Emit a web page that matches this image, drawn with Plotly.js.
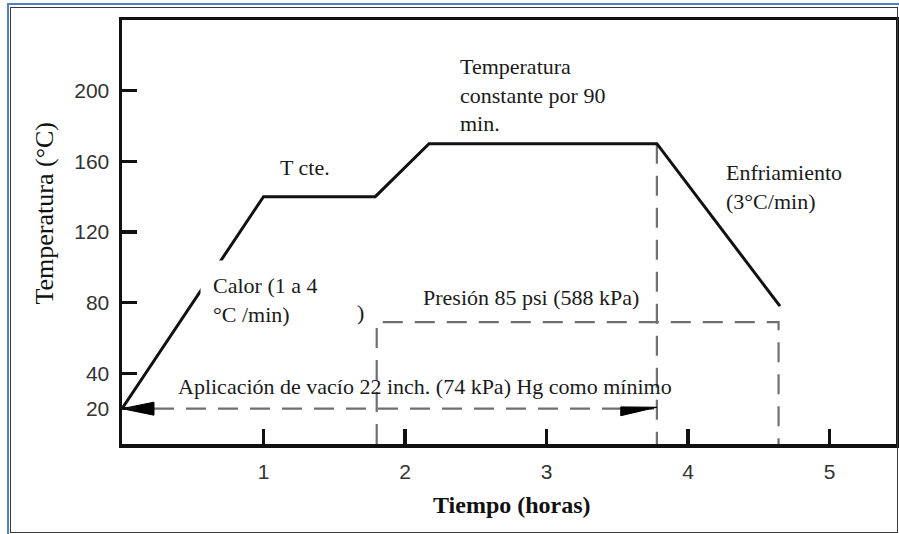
<!DOCTYPE html>
<html>
<head>
<meta charset="utf-8">
<script src="https://cdn.plot.ly/plotly-3.0.1.min.js"></script>
<style>
  html, body { margin: 0; padding: 0; background: #fff; }
  #wrap { position: relative; width: 899px; height: 534px; }
  #chart { width: 899px; height: 534px; }
  #frameBlue { position: absolute; left: 7px; top: 3px; width: 892px; height: 531px;
    border-left: 2px solid #4f81bd; border-top: 2px solid #4f81bd; box-sizing: border-box; pointer-events: none; }
  #frameDark { position: absolute; left: 10px; top: 7px; width: 888px; height: 526px;
    border: 1.5px solid #3a3a3a; box-sizing: border-box; pointer-events: none; }
</style>
</head>
<body>
<div id="wrap">
  <div id="chart"></div>
  <div id="frameBlue"></div>
  <div id="frameDark"></div>
</div>
<script>
// ---- Data ----
var timeH  = [0, 1.0, 1.79, 2.17, 3.78, 4.65];      // horas
var tempC  = [20, 140, 140, 170, 170, 78];           // °C

var pressTime  = [1.8, 1.8, 4.64, 4.64];
var pressLevel = [0, 69, 69, 0];

var vacTime  = [0, 3.78];
var vacLevel = [20, 20];

var holdEndTime  = [3.78, 3.78];
var holdEndLevel = [170, 0];

var xTickVals = [1, 2, 3, 4, 5];
var yTickVals = [20, 40, 80, 120, 160, 200];

// ---- Styles ----
var serif = "'Liberation Serif', 'Times New Roman', serif";
var sans  = "'Liberation Sans', Arial, sans-serif";
var dashGrey = "#6f6f6f";
var dashPat = "20px,12px";

// arrowheads built from the vacuum line endpoints
var hL = 0.226, hH = 3.7;
var xa = vacTime[0], ya = vacLevel[0];
var leftHead = {
  x: [xa, xa + hL, xa + hL, xa],
  y: [ya, ya + hH, ya - hH, ya],
  mode: "lines", fill: "toself", fillcolor: "#000",
  line: {color: "#000", width: 1}, hoverinfo: "skip", showlegend: false
};
var xb = vacTime[1], yb = vacLevel[1];
var rightHead = {
  x: [xb - 0.255, xb, xb - 0.255, xb - 0.255],
  y: [yb + 1, yb + 0.8, yb - 4, yb + 1],
  mode: "lines", fill: "toself", fillcolor: "#000",
  line: {color: "#000", width: 1}, hoverinfo: "skip", showlegend: false
};

var traces = [
  {x: pressTime, y: pressLevel, mode: "lines",
   line: {color: dashGrey, width: 2.2, dash: dashPat}, hoverinfo: "skip", showlegend: false},
  {x: vacTime, y: vacLevel, mode: "lines",
   line: {color: dashGrey, width: 2.2, dash: dashPat}, hoverinfo: "skip", showlegend: false},
  {x: holdEndTime, y: holdEndLevel, mode: "lines",
   line: {color: dashGrey, width: 2.2, dash: dashPat}, hoverinfo: "skip", showlegend: false},
  {x: timeH, y: tempC, mode: "lines",
   line: {color: "#111", width: 3}, hoverinfo: "skip", showlegend: false},
  leftHead, rightHead
];

function note(text, x, y, extra) {
  var a = {text: text, x: x, y: y, xref: "x", yref: "y", showarrow: false,
    xanchor: "left", yanchor: "middle", align: "left",
    font: {family: serif, size: 22, color: "#1a1a1a"}};
  if (extra) { for (var k in extra) a[k] = extra[k]; }
  return a;
}

var annotations = [
  note("Temperatura<br>constante por 90<br>min.", 2.375, 197.5),
  note("T cte.", 1.10, 156.3),
  note("Enfriamiento<br>(3°C/min)", 4.255, 145.2),
  note("Calor (1 a 4<br>°C /min)", 0.548, 81.3, {bgcolor: "#fff", borderpad: 12}),
  note(")", 1.65, 74.2),
  note("Presión 85 psi (588 kPa)", 2.11, 82.7),
  note("Aplicación de vacío 22 inch. (74 kPa) Hg como mínimo", 0.38, 32.3),
  {text: "Temperatura (°C)", xref: "paper", yref: "paper", x: -0.1, y: 0.545,
   xanchor: "center", yanchor: "middle", textangle: -90, showarrow: false,
   font: {family: serif, size: 26, color: "#111"}},
  {text: "<b>Tiempo (horas)</b>", xref: "paper", yref: "paper", x: 0.504, y: -0.145,
   xanchor: "center", yanchor: "middle", showarrow: false,
   font: {family: serif, size: 24, color: "#111"}}
];

var layout = {
  width: 899, height: 534,
  margin: {l: 122, r: 3, t: 20, b: 90},
  paper_bgcolor: "#fff", plot_bgcolor: "#fff",
  showlegend: false,
  xaxis: {
    range: [0, 5.47], tickvals: xTickVals, ticktext: xTickVals.map(String),
    ticks: "inside", ticklen: 15, tickwidth: 3.5, tickcolor: "#111",
    showline: true, linecolor: "#111", linewidth: 3.5, mirror: true,
    showgrid: false, zeroline: false,
    tickfont: {family: sans, size: 21, color: "#333"}, ticklabelstandoff: 6
  },
  yaxis: {
    range: [0, 240], tickvals: yTickVals, ticktext: yTickVals.map(String),
    ticks: "inside", ticklen: 15, tickwidth: 3.5, tickcolor: "#111",
    showline: true, linecolor: "#111", linewidth: 3.5, mirror: true,
    showgrid: false, zeroline: false,
    tickfont: {family: sans, size: 21, color: "#333"}, ticklabelstandoff: 5
  },
  annotations: annotations
};

Plotly.newPlot("chart", traces, layout, {displayModeBar: false, staticPlot: true});
</script>
</body>
</html>
